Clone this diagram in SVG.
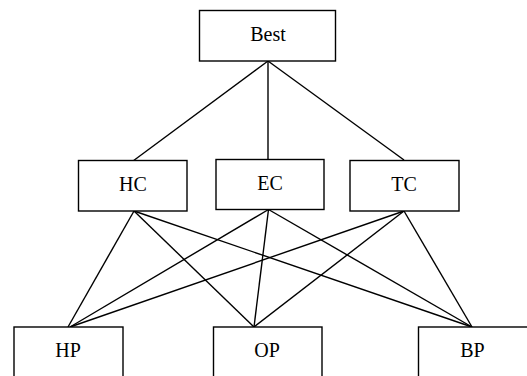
<svg xmlns="http://www.w3.org/2000/svg" width="527" height="376" viewBox="0 0 527 376">
<style>
.box{fill:#fff;stroke:#000;stroke-width:1.4}
.lbl{font-family:"Liberation Serif","Times New Roman",serif;font-size:20px;fill:#000;text-anchor:middle}
.conn line{stroke:#000;stroke-width:1.4}
</style>
<rect width="527" height="376" fill="#fff"/>
<g class="conn" id="connectors">
<line x1="268" y1="61" x2="133" y2="161"/>
<line x1="268" y1="61" x2="268" y2="160"/>
<line x1="268" y1="61" x2="404" y2="160"/>
<line x1="134" y1="211" x2="68" y2="327"/>
<line x1="134" y1="211" x2="254" y2="327"/>
<line x1="134" y1="211" x2="472" y2="327"/>
<line x1="268.5" y1="209.5" x2="70" y2="327"/>
<line x1="268.5" y1="209.5" x2="254" y2="327"/>
<line x1="268.5" y1="209.5" x2="472" y2="327"/>
<line x1="404" y1="211" x2="70" y2="327"/>
<line x1="404" y1="211" x2="254" y2="327"/>
<line x1="404" y1="211" x2="472" y2="327"/>
</g>
<g id="best"><rect class="box" x="199.5" y="10.5" width="136" height="50.5"/><text class="lbl" x="268" y="40.5">Best</text></g>
<g id="hc"><rect class="box" x="78.5" y="160.5" width="108.5" height="50.5"/><text class="lbl" x="133" y="190.5">HC</text></g>
<g id="ec"><rect class="box" x="216" y="159.5" width="108" height="50"/><text class="lbl" x="270" y="190">EC</text></g>
<g id="tc"><rect class="box" x="350" y="160.5" width="109" height="50.5"/><text class="lbl" x="404" y="190.5">TC</text></g>
<g id="hp"><rect class="box" x="14" y="327" width="109" height="60"/><text class="lbl" x="68" y="356.5">HP</text></g>
<g id="op"><rect class="box" x="213.5" y="327" width="108.5" height="60"/><text class="lbl" x="267" y="356.5">OP</text></g>
<g id="bp"><rect class="box" x="418.5" y="327" width="120" height="60"/><text class="lbl" x="472.5" y="356.5">BP</text></g>
</svg>
